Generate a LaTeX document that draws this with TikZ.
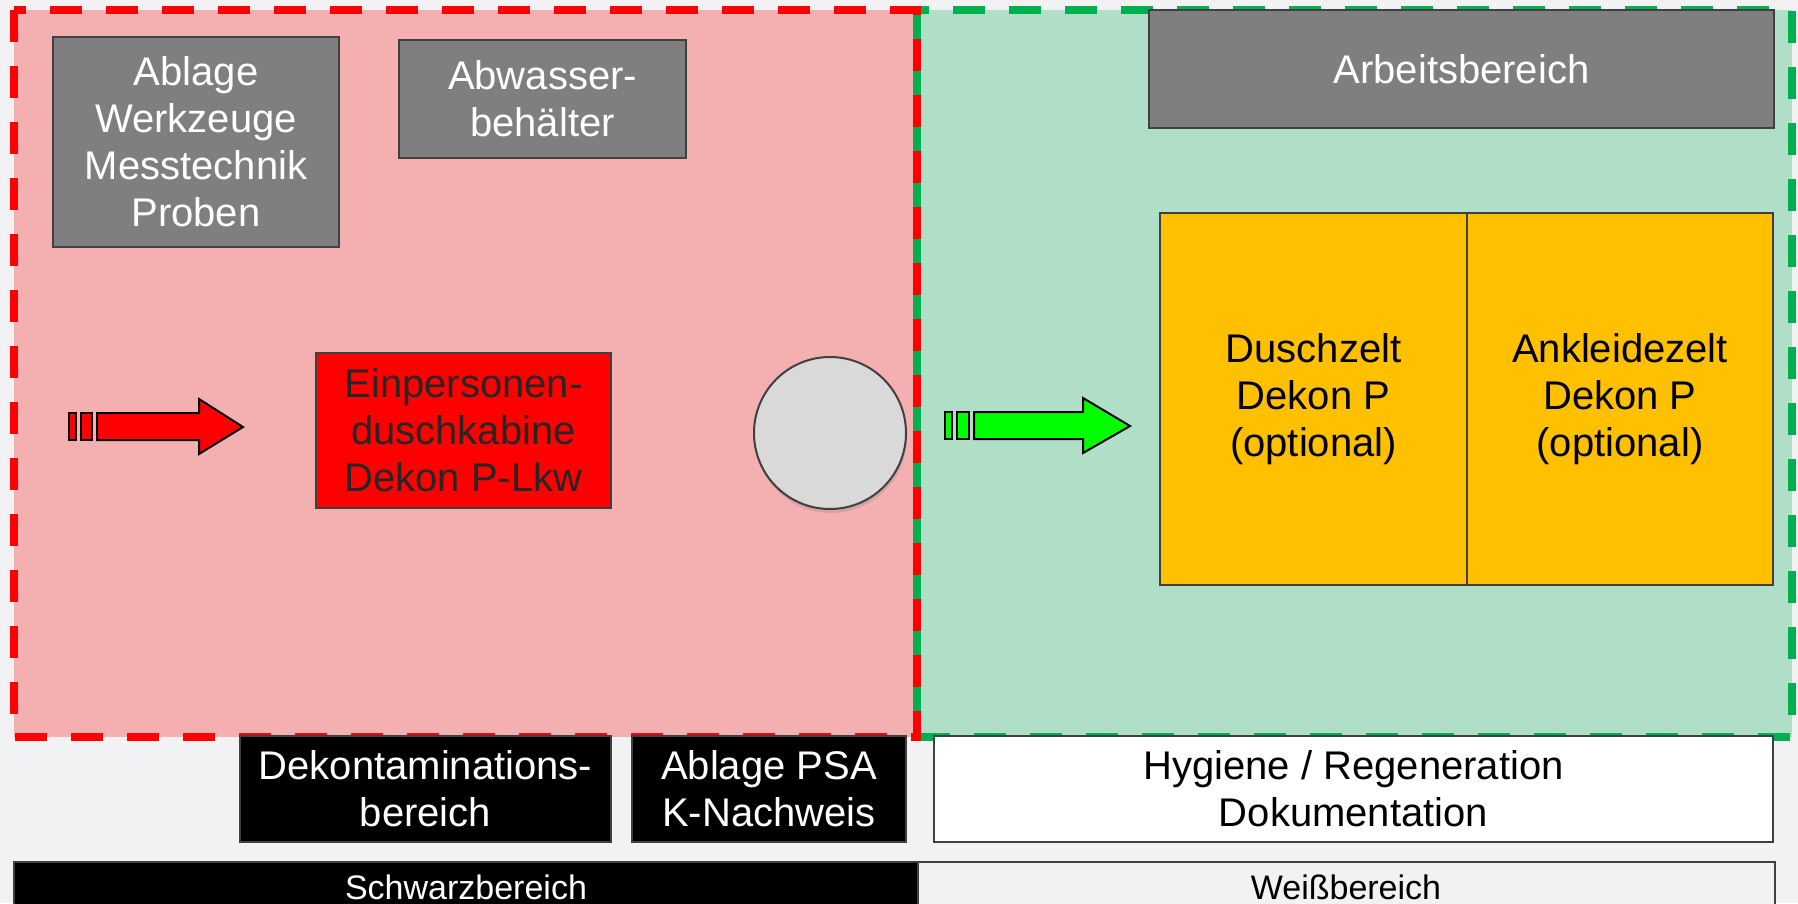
\documentclass[tikz,border=0pt]{standalone}
\usepackage{fontspec}
\setmainfont{Liberation Sans}
\usetikzlibrary{shadows}
\definecolor{bg}{HTML}{F2F2F4}
\definecolor{pinkfill}{HTML}{F4AFB0}
\definecolor{greenfill}{HTML}{AFDFC7}
\definecolor{dashgreen}{HTML}{00B050}
\definecolor{boxgray}{HTML}{7F7F7F}
\definecolor{edgegray}{HTML}{404040}
\definecolor{tentyellow}{HTML}{FFC000}
\definecolor{circlegray}{HTML}{D9D9D9}
\definecolor{arrowgreen}{HTML}{00FF00}
\begin{document}
\begin{tikzpicture}[x=1pt,y=-1pt,
  lbl/.style={font=\fontsize{40}{47}\selectfont, align=center, inner sep=0pt},
  graybox/.style={lbl, draw=edgegray, line width=2pt, fill=boxgray, text=white},
  redbox/.style={lbl, draw=edgegray, line width=2pt, fill=red, text=black!85},
  tentbox/.style={lbl, draw=edgegray, line width=2pt, fill=tentyellow, text=black},
  blackbox/.style={lbl, draw=edgegray, line width=2pt, fill=black, text=white},
  whitebox/.style={lbl, draw=edgegray, line width=2pt, fill=white, text=black},
  barlbl/.style={font=\fontsize{34}{40}\selectfont, inner sep=0pt},
  zoneline/.style={line width=8pt, dash pattern=on 32pt off 24pt},
  flowarrow/.style={draw=black, line width=2pt, line join=miter},
]
\clip (0,0) rectangle (1798,903);
\fill[bg] (0,0) rectangle (1798,903);
% zones
\fill[greenfill] (917,10) rectangle (1792,737);
\fill[pinkfill] (14,10) rectangle (917,737);
\draw[zoneline, draw=dashgreen] (917,10) rectangle (1792,737);
\draw[zoneline, draw=red] (14,10) rectangle (917,737);
% bottom bars
\draw[fill=black, draw=edgegray, line width=2pt] (14,862) rectangle (918,940);
\draw[fill=bg, draw=edgegray, line width=2pt] (918,862) rectangle (1775,940);
\node[barlbl, text=white] (schwarz) at (466,887) {Schwarzbereich};
\node[barlbl, text=black] (weiss) at (1346,887) {Weißbereich};
% gray boxes
\node[graybox, minimum width=286pt, minimum height=210pt] (ablage) at (196,142) {Ablage\\Werkzeuge\\Messtechnik\\Proben};
\node[graybox, minimum width=287pt, minimum height=118pt] (abwasser) at (542.5,99) {Abwasser-\\behälter};
\node[graybox, minimum width=625pt, minimum height=118pt] (arbeit) at (1461.5,69) {Arbeitsbereich};
% shower cabin
\node[redbox, minimum width=295pt, minimum height=155pt] (kabine) at (463.5,430.5) {Einpersonen-\\duschkabine\\Dekon P-Lkw};
% tents
\node[tentbox, minimum width=307pt, minimum height=372pt] (dusch) at (1313.5,399) {Duschzelt\\Dekon P\\(optional)};
\node[tentbox, minimum width=306pt, minimum height=372pt] (ankleide) at (1620,399) {Ankleidezelt\\Dekon P\\(optional)};
% circle
\node[circle, minimum size=152pt, inner sep=0pt, fill=circlegray, draw=edgegray, line width=2pt,
  drop shadow={opacity=0.25, shadow xshift=1pt, shadow yshift=-4pt}] (kreis) at (830,433) {};
% red arrow
\draw[flowarrow, fill=red] (69,413) rectangle (76,440);
\draw[flowarrow, fill=red] (81,413) rectangle (92,440);
\draw[flowarrow, fill=red] (97,413) -- (199,413) -- (199,399) -- (243,427) -- (199,454) -- (199,440) -- (97,440) -- cycle;
% green arrow
\draw[flowarrow, fill=arrowgreen] (945,412) rectangle (952,439);
\draw[flowarrow, fill=arrowgreen] (957,412) rectangle (969,439);
\draw[flowarrow, fill=arrowgreen] (974,412) -- (1083,412) -- (1083,398) -- (1130,426) -- (1083,453) -- (1083,439) -- (974,439) -- cycle;
% bottom label boxes
\node[blackbox, minimum width=371pt, minimum height=106pt] (dekon) at (425.5,789) {Dekontaminations-\\bereich};
\node[blackbox, minimum width=274pt, minimum height=106pt] (psa) at (769,789) {Ablage PSA\\K-Nachweis};
\node[whitebox, minimum width=839pt, minimum height=106pt] (hyg) at (1353.5,789) {Hygiene / Regeneration\\Dokumentation};
\end{tikzpicture}
\end{document}
